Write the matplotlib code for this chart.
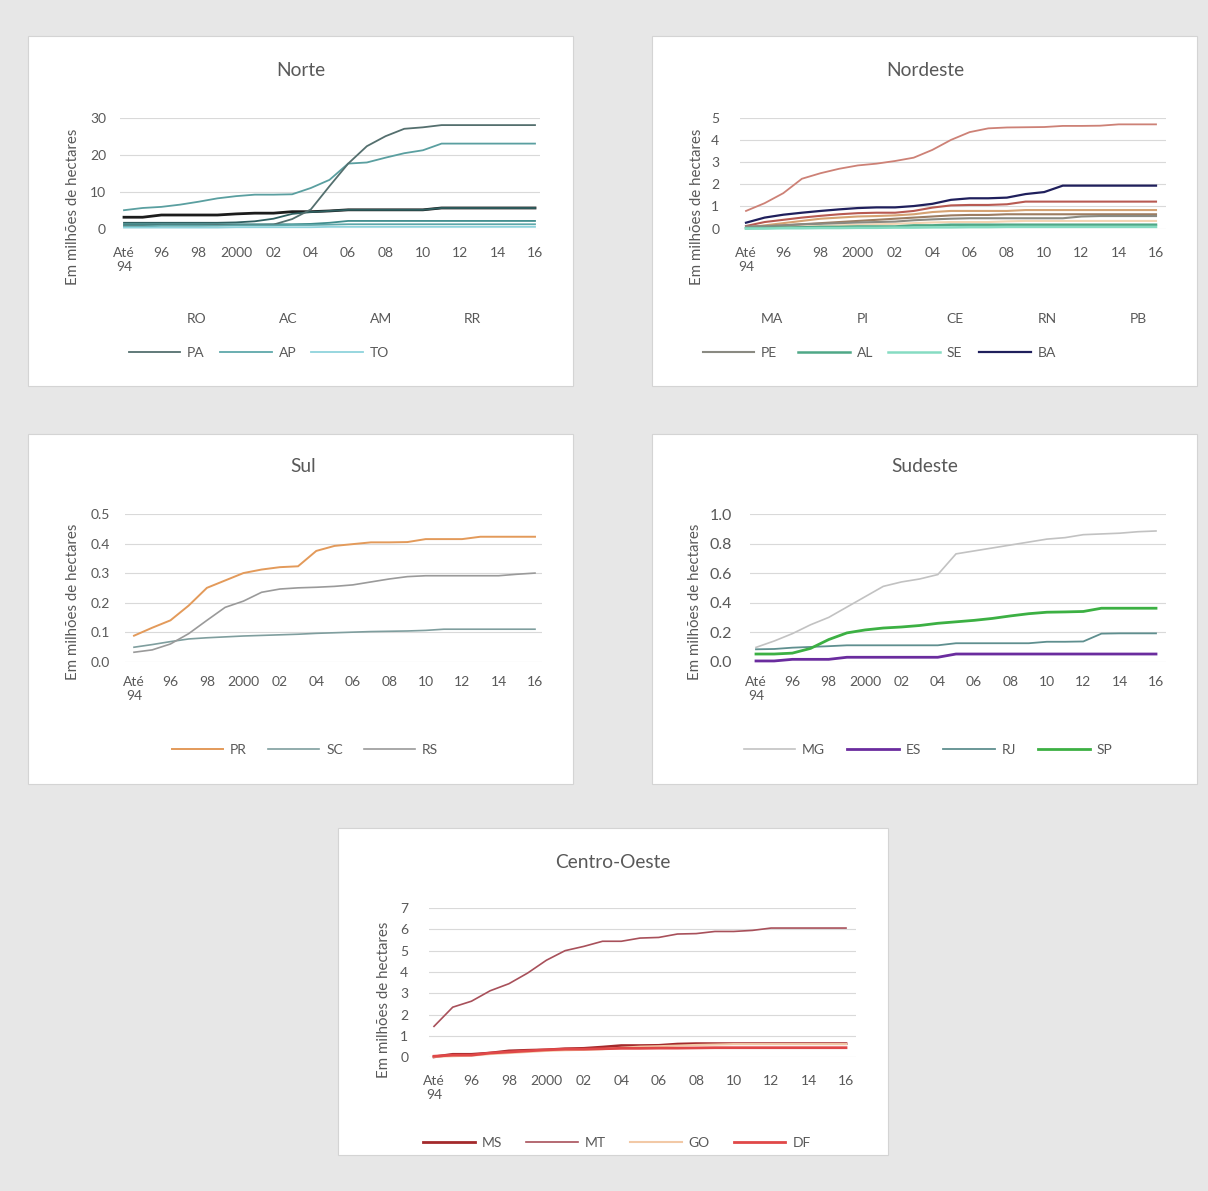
import matplotlib
matplotlib.use("Agg")
import matplotlib.pyplot as plt
from matplotlib.patches import Rectangle

plt.rcParams['font.family'] = ['Lato', 'DejaVu Sans']

W, H = 1208, 1191
TEXT = '#595959'
GRID = '#d9d9d9'

YEARS = list(range(1994, 2017))
XTICKS = list(range(1994, 2017, 2))
XTICK_LABELS = ['Até\n94', '96', '98', '2000', '02', '04', '06', '08', '10', '12', '14', '16']
YLABEL = 'Em milhões de hectares'

# --- Norte (milhões de hectares) ---
norte_ro = [3.1, 3.1, 3.7, 3.7, 3.7, 3.7, 4.0, 4.2, 4.2, 4.6, 4.6, 4.8, 5.1, 5.1, 5.1, 5.1, 5.1, 5.6, 5.6, 5.6, 5.6, 5.6, 5.6]
norte_ac = [1.6, 1.6, 1.6, 1.6, 1.6, 1.6, 1.7, 2.0, 2.7, 4.0, 4.5, 4.8, 5.1, 5.1, 5.1, 5.1, 5.1, 5.6, 5.6, 5.6, 5.6, 5.6, 5.6]
norte_am = [5.0, 5.6, 5.9, 6.5, 7.3, 8.2, 8.8, 9.2, 9.2, 9.3, 11.0, 13.2, 17.6, 17.9, 19.2, 20.4, 21.2, 23.0, 23.0, 23.0, 23.0, 23.0, 23.0]
norte_rr = [1.2, 1.2, 1.2, 1.2, 1.2, 1.2, 1.2, 1.2, 1.2, 1.2, 1.3, 1.6, 2.1, 2.1, 2.1, 2.1, 2.1, 2.1, 2.1, 2.1, 2.1, 2.1, 2.1]
norte_pa = [0.8, 0.8, 0.9, 0.9, 0.9, 1.0, 1.0, 1.0, 1.1, 2.6, 5.2, 11.5, 17.6, 22.3, 25.0, 27.0, 27.4, 28.0, 28.0, 28.0, 28.0, 28.0, 28.0]
norte_ap = [0.6, 0.6, 0.8, 0.8, 0.8, 0.8, 0.9, 0.9, 0.9, 1.0, 1.0, 1.1, 1.2, 1.2, 1.2, 1.2, 1.2, 1.2, 1.2, 1.2, 1.2, 1.2, 1.2]
norte_to = [0.3, 0.3, 0.3, 0.3, 0.3, 0.3, 0.4, 0.4, 0.4, 0.4, 0.4, 0.5, 0.5, 0.5, 0.5, 0.5, 0.5, 0.5, 0.5, 0.5, 0.5, 0.5, 0.5]

# --- Nordeste ---
nordeste_ma = [0.8, 1.15, 1.6, 2.25, 2.5, 2.7, 2.85, 2.93, 3.05, 3.2, 3.55, 4.0, 4.35, 4.52, 4.56, 4.57, 4.58, 4.63, 4.63, 4.64, 4.70, 4.70, 4.70]
nordeste_pi = [0.12, 0.3, 0.4, 0.5, 0.58, 0.65, 0.7, 0.72, 0.72, 0.8, 0.95, 1.05, 1.07, 1.07, 1.1, 1.22, 1.22, 1.22, 1.22, 1.22, 1.22, 1.22, 1.22]
nordeste_ce = [0.05, 0.15, 0.25, 0.35, 0.45, 0.5, 0.55, 0.57, 0.6, 0.65, 0.75, 0.8, 0.8, 0.8, 0.8, 0.84, 0.84, 0.84, 0.84, 0.84, 0.84, 0.84, 0.84]
nordeste_rn = [0.03, 0.05, 0.08, 0.1, 0.12, 0.15, 0.18, 0.2, 0.22, 0.25, 0.28, 0.3, 0.3, 0.3, 0.33, 0.35, 0.35, 0.35, 0.35, 0.35, 0.35, 0.35, 0.35]
nordeste_pb = [0.04, 0.1, 0.15, 0.2, 0.25, 0.3, 0.35, 0.4, 0.45, 0.5, 0.55, 0.6, 0.62, 0.62, 0.65, 0.65, 0.65, 0.65, 0.65, 0.65, 0.65, 0.65, 0.65]
nordeste_pe = [0.1, 0.12, 0.15, 0.2, 0.22, 0.25, 0.28, 0.3, 0.32, 0.38, 0.42, 0.45, 0.47, 0.47, 0.47, 0.47, 0.47, 0.47, 0.55, 0.57, 0.57, 0.57, 0.57]
nordeste_al = [0.02, 0.03, 0.05, 0.06, 0.08, 0.08, 0.1, 0.1, 0.1, 0.15, 0.15, 0.18, 0.18, 0.18, 0.18, 0.18, 0.18, 0.18, 0.18, 0.18, 0.18, 0.18, 0.18]
nordeste_se = [0.01, 0.01, 0.02, 0.02, 0.03, 0.03, 0.04, 0.04, 0.05, 0.05, 0.06, 0.06, 0.07, 0.07, 0.08, 0.08, 0.08, 0.08, 0.08, 0.08, 0.08, 0.08, 0.08]
nordeste_ba = [0.27, 0.5, 0.63, 0.72, 0.8, 0.87, 0.93, 0.96, 0.96, 1.02, 1.12, 1.3, 1.37, 1.37, 1.40, 1.56, 1.65, 1.94, 1.94, 1.94, 1.94, 1.94, 1.94]

# --- Sul ---
sul_pr = [0.088, 0.115, 0.14, 0.19, 0.25, 0.275, 0.300, 0.312, 0.320, 0.323, 0.375, 0.392, 0.398, 0.404, 0.404, 0.405, 0.415, 0.415, 0.415, 0.423, 0.423, 0.423, 0.423]
sul_sc = [0.049, 0.058, 0.068, 0.077, 0.081, 0.084, 0.087, 0.089, 0.091, 0.093, 0.096, 0.098, 0.100, 0.102, 0.103, 0.104, 0.106, 0.11, 0.11, 0.11, 0.11, 0.11, 0.11]
sul_rs = [0.032, 0.04, 0.06, 0.095, 0.14, 0.184, 0.205, 0.235, 0.246, 0.25, 0.252, 0.255, 0.26, 0.27, 0.28, 0.288, 0.291, 0.291, 0.291, 0.291, 0.291, 0.296, 0.30]

# --- Sudeste ---
sudeste_mg = [0.097, 0.14, 0.19, 0.25, 0.30, 0.37, 0.44, 0.51, 0.54, 0.56, 0.59, 0.73, 0.75, 0.77, 0.79, 0.81, 0.83, 0.84, 0.86, 0.865, 0.87, 0.88, 0.885]
sudeste_es = [0.005, 0.005, 0.016, 0.016, 0.016, 0.03, 0.03, 0.03, 0.03, 0.03, 0.03, 0.052, 0.052, 0.052, 0.052, 0.052, 0.052, 0.052, 0.052, 0.052, 0.052, 0.052, 0.052]
sudeste_rj = [0.084, 0.086, 0.095, 0.10, 0.105, 0.111, 0.111, 0.111, 0.111, 0.111, 0.111, 0.125, 0.125, 0.125, 0.125, 0.125, 0.135, 0.135, 0.137, 0.19, 0.192, 0.192, 0.192]
sudeste_sp = [0.052, 0.052, 0.058, 0.09, 0.15, 0.195, 0.215, 0.228, 0.235, 0.245, 0.26, 0.27, 0.28, 0.293, 0.31, 0.325, 0.335, 0.337, 0.34, 0.362, 0.362, 0.362, 0.362]

# --- Centro-Oeste ---
co_ms = [0.02, 0.14, 0.14, 0.2, 0.3, 0.33, 0.35, 0.4, 0.42, 0.48, 0.55, 0.55, 0.56, 0.62, 0.64, 0.64, 0.64, 0.64, 0.64, 0.64, 0.64, 0.64, 0.64]
co_mt = [1.45, 2.35, 2.63, 3.12, 3.45, 3.95, 4.55, 5.0, 5.2, 5.44, 5.44, 5.59, 5.62, 5.78, 5.8, 5.9, 5.9, 5.95, 6.06, 6.06, 6.06, 6.06, 6.06]
co_go = [0.03, 0.05, 0.08, 0.15, 0.2, 0.25, 0.3, 0.33, 0.35, 0.38, 0.45, 0.5, 0.52, 0.55, 0.58, 0.6, 0.62, 0.62, 0.62, 0.62, 0.62, 0.62, 0.62]
co_df = [0.05, 0.1, 0.1, 0.2, 0.25, 0.3, 0.35, 0.38, 0.38, 0.4, 0.42, 0.42, 0.43, 0.43, 0.44, 0.45, 0.45, 0.45, 0.45, 0.45, 0.45, 0.45, 0.45]


fig = plt.figure(figsize=(W / 100, H / 100), dpi=100)
fig.patch.set_facecolor('#e7e7e7')


def fx(px):
    return px / W


def fy(py):
    return 1 - py / H


def row_major(items, ncol):
    """Reorder entries so a column-filled legend reads row by row."""
    n = len(items)
    nrows = -(-n // ncol)
    out = []
    for c in range(ncol):
        for r in range(nrows):
            i = r * ncol + c
            if i < n:
                out.append(items[i])
    return out


def draw_panel(box, grid_lr, line_lr, y_top, y_zero, ymax, yticks, ylabels,
               title, title_xy, ylabel_xy, series, ncol, hidden, legend_xy,
               xpad, ypad, ytick_fs=10, colspace=1.0):
    x0, y0, x1, y1 = box
    fig.patches.append(Rectangle((fx(x0), fy(y1)), (x1 - x0) / W, (y1 - y0) / H,
                                 transform=fig.transFigure, facecolor='white',
                                 edgecolor='#d4d4d4', lw=0.8, zorder=-10))
    gl, gr = grid_lr
    xs, xe = line_lr
    ax = fig.add_axes([fx(gl), fy(y_zero), (gr - gl) / W, (y_zero - y_top) / H])
    ax.set_facecolor('none')
    ppy = (xe - xs) / 22.0
    ax.set_xlim(1994 - (xs - gl) / ppy, 2016 + (gr - xe) / ppy)
    ax.set_ylim(0, ymax)
    ax.set_yticks(yticks)
    ax.set_yticklabels(ylabels)
    ax.set_xticks(XTICKS)
    ax.set_xticklabels(XTICK_LABELS)
    for s in ax.spines.values():
        s.set_visible(False)
    ax.yaxis.grid(True, color=GRID, lw=0.8)
    ax.set_axisbelow(True)
    ax.tick_params(axis='x', length=0, pad=xpad, labelsize=10, labelcolor=TEXT)
    ax.tick_params(axis='y', length=0, pad=ypad, labelsize=ytick_fs, labelcolor=TEXT)
    lines = {}
    for name, vals, color, lw in series:
        ln, = ax.plot(YEARS, vals, color=color, lw=lw, label=name,
                      solid_joinstyle='miter', clip_on=False)
        lines[name] = ln
    names = row_major([s[0] for s in series], ncol)
    leg = ax.legend([lines[n] for n in names], names, loc='center',
                    bbox_to_anchor=(fx(legend_xy[0]), fy(legend_xy[1])),
                    bbox_transform=fig.transFigure, ncol=ncol, frameon=False,
                    fontsize=10, handlelength=3.7, handletextpad=0.5,
                    columnspacing=colspace, labelspacing=1.6, labelcolor=TEXT)
    for n, h in zip(names, leg.legend_handles):
        if n in hidden:
            h.set_visible(False)
    fig.text(fx(title_xy[0]), fy(title_xy[1]), title, ha='center', va='center',
             fontsize=13.8, color=TEXT)
    fig.text(fx(ylabel_xy[0]), fy(ylabel_xy[1]), YLABEL, rotation=90,
             ha='center', va='center', fontsize=10.8, color=TEXT)
    return ax


draw_panel(
    box=(28, 36, 573, 386), grid_lr=(120, 540), line_lr=(124, 535),
    y_top=117.7, y_zero=228.7, ymax=30, yticks=[0, 10, 20, 30],
    ylabels=['0', '10', '20', '30'], title='Norte', title_xy=(301, 70),
    ylabel_xy=(73, 207),
    series=[('RO', norte_ro, '#1c1c1c', 2.0),
            ('AC', norte_ac, '#2f5f60', 1.3),
            ('AM', norte_am, '#5a9fa0', 1.3),
            ('RR', norte_rr, '#3f8c8c', 1.3),
            ('PA', norte_pa, '#546f6e', 1.3),
            ('AP', norte_ap, '#5ea8aa', 1.3),
            ('TO', norte_to, '#8fd3dc', 1.3)],
    ncol=4, hidden={'RO', 'AC', 'AM', 'RR'}, legend_xy=(305, 336),
    xpad=13, ypad=10)

draw_panel(
    box=(652, 36, 1197, 386), grid_lr=(740, 1166), line_lr=(746, 1156),
    y_top=117.7, y_zero=228.7, ymax=5, yticks=[0, 1, 2, 3, 4, 5],
    ylabels=['0', '1', '2', '3', '4', '5'], title='Nordeste', title_xy=(925, 70),
    ylabel_xy=(697, 207),
    series=[('MA', nordeste_ma, '#cd8176', 1.3),
            ('PI', nordeste_pi, '#b85a52', 1.5),
            ('CE', nordeste_ce, '#d5a272', 1.5),
            ('RN', nordeste_rn, '#f3d4b2', 1.5),
            ('PB', nordeste_pb, '#9c7d62', 1.5),
            ('PE', nordeste_pe, '#8a8a82', 1.5),
            ('AL', nordeste_al, '#4fa887', 1.8),
            ('SE', nordeste_se, '#86dcc2', 1.8),
            ('BA', nordeste_ba, '#1f1f5c', 1.6)],
    ncol=5, hidden={'MA', 'PI', 'CE', 'RN', 'PB'}, legend_xy=(925, 336),
    xpad=13, ypad=15, colspace=1.1)

draw_panel(
    box=(28, 434, 573, 784), grid_lr=(125, 542), line_lr=(134, 535),
    y_top=514, y_zero=661.7, ymax=0.5, yticks=[0, 0.1, 0.2, 0.3, 0.4, 0.5],
    ylabels=['0.0', '0.1', '0.2', '0.3', '0.4', '0.5'], title='Sul',
    title_xy=(303, 466), ylabel_xy=(73, 602),
    series=[('PR', sul_pr, '#e39a5a', 1.4),
            ('SC', sul_sc, '#7f9e9e', 1.2),
            ('RS', sul_rs, '#9a9a9a', 1.2)],
    ncol=3, hidden=set(), legend_xy=(305, 750),
    xpad=10, ypad=11, colspace=1.5)

draw_panel(
    box=(652, 434, 1197, 784), grid_lr=(750, 1166), line_lr=(756, 1156),
    y_top=514, y_zero=661.7, ymax=1.0, yticks=[0, 0.2, 0.4, 0.6, 0.8, 1.0],
    ylabels=['0.0', '0.2', '0.4', '0.6', '0.8', '1.0'], title='Sudeste',
    title_xy=(925, 466), ylabel_xy=(695, 602),
    series=[('MG', sudeste_mg, '#c2c2c2', 1.2),
            ('ES', sudeste_es, '#6a2c9e', 2.0),
            ('RJ', sudeste_rj, '#5f8f8f', 1.3),
            ('SP', sudeste_sp, '#3cb043', 2.0)],
    ncol=4, hidden=set(), legend_xy=(928, 750),
    xpad=10, ypad=13, ytick_fs=11.5, colspace=1.6)

draw_panel(
    box=(338, 828, 888, 1155), grid_lr=(429, 856), line_lr=(434, 846),
    y_top=908, y_zero=1057.3, ymax=7, yticks=list(range(8)),
    ylabels=[str(v) for v in range(8)], title='Centro-Oeste',
    title_xy=(613, 863), ylabel_xy=(384, 1000),
    series=[('MS', co_ms, '#a3292b', 2.0),
            ('MT', co_mt, '#a8505a', 1.2),
            ('GO', co_go, '#f2c9a6', 1.5),
            ('DF', co_df, '#e04848', 2.0)],
    ncol=4, hidden=set(), legend_xy=(617, 1143),
    xpad=13, ypad=15, colspace=1.75)

fig.savefig('out.png', dpi=100, facecolor=fig.get_facecolor())
